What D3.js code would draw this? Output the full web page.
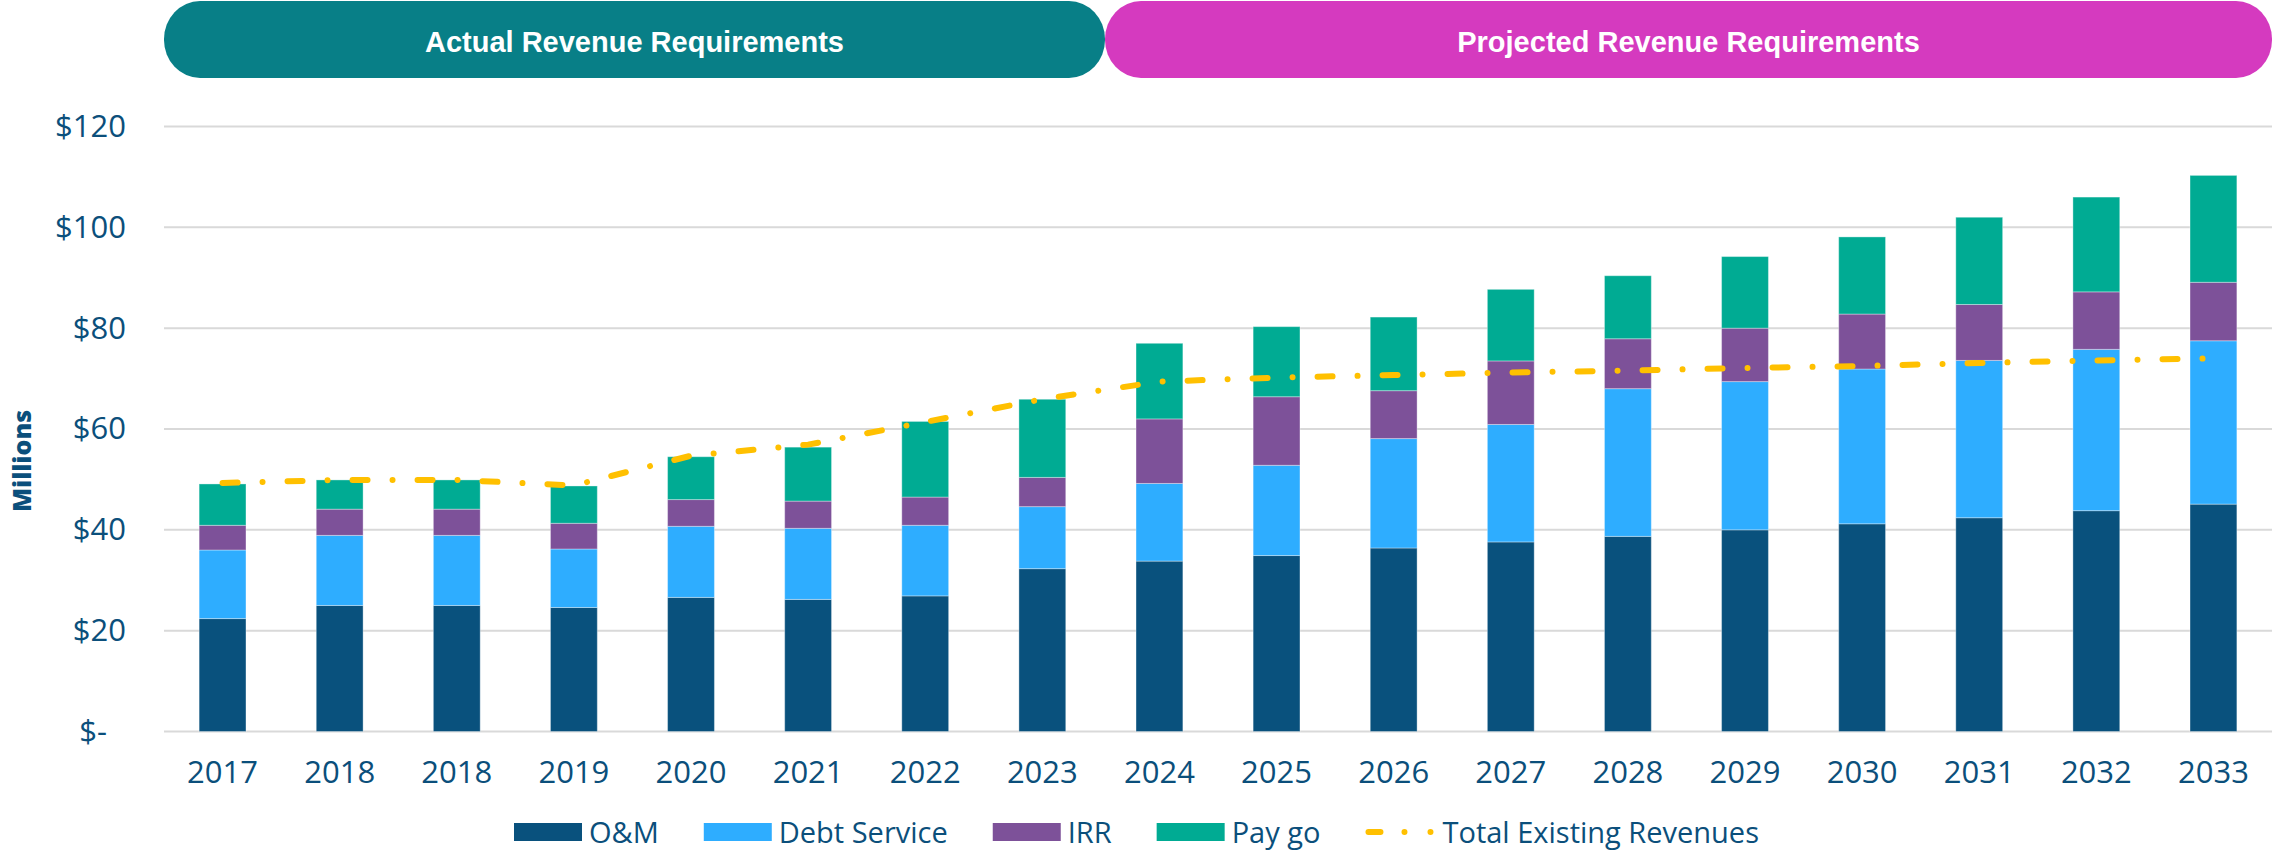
<!DOCTYPE html>
<html>
<head>
<meta charset="utf-8">
<script src="https://cdn.jsdelivr.net/npm/d3@7"></script>
<style>
  body { margin: 0; background: #fff; }
  svg { display: block; }
</style>
</head>
<body>
<svg id="chart" width="2272" height="852"></svg>
<script>
const years = ["2017", "2018", "2018", "2019", "2020", "2021", "2022", "2023", "2024",
  "2025", "2026", "2027", "2028", "2029", "2030", "2031", "2032", "2033"];

const om = [22.4, 25.0, 25.0, 24.6, 26.6, 26.2, 26.9, 32.3, 33.8,
  34.9, 36.4, 37.6, 38.7, 40.0, 41.2, 42.4, 43.8, 45.1];
const debtService = [13.6, 13.9, 13.9, 11.6, 14.1, 14.1, 14.0, 12.3, 15.4,
  17.9, 21.7, 23.3, 29.3, 29.4, 30.7, 31.2, 32.0, 32.4];
const irr = [4.9, 5.2, 5.2, 5.1, 5.3, 5.4, 5.6, 5.8, 12.8,
  13.6, 9.5, 12.6, 9.9, 10.6, 10.9, 11.1, 11.4, 11.6];
const payGo = [8.2, 5.8, 5.8, 7.4, 8.5, 10.7, 15.0, 15.5, 15.0,
  13.9, 14.6, 14.2, 12.5, 14.2, 15.3, 17.3, 18.8, 21.2];
const existingRevenues = [49.3, 49.9, 49.9, 48.8, 54.7, 56.9, 61.4, 65.9, 69.4,
  70.2, 70.7, 71.2, 71.6, 72.1, 72.5, 73.1, 73.6, 74.0];

const yTicks = [0, 20, 40, 60, 80, 100, 120];

const seriesNames = ["O&M", "Debt Service", "IRR", "Pay go"];
const seriesColors = ["#09517D", "#2EADFF", "#7D5199", "#00AB93"];
const lineName = "Total Existing Revenues";
const lineColor = "#FFC000";
const textColor = "#0B4F7B";
const font = "'Open Sans', 'DejaVu Sans', sans-serif";
const dashes = "15,25,0.01,25";

const plotLeft = 164, plotRight = 2272, plotTop = 126.5, plotBottom = 731.5;

const svg = d3.select("#chart");

const x = d3.scaleBand()
  .domain(d3.range(years.length))
  .range([plotLeft, plotRight])
  .paddingInner(0.6)
  .paddingOuter(0.3);

const y = d3.scaleLinear().domain([0, 120]).range([plotBottom, plotTop]);

// banners above the plot
const banners = [
  { label: "Actual Revenue Requirements", x0: 164, x1: 1105, color: "#087F87" },
  { label: "Projected Revenue Requirements", x0: 1105, x1: 2272, color: "#D53ABF" }
];
const bannerG = svg.append("g");
bannerG.selectAll("rect")
  .data(banners)
  .enter()
  .append("rect")
  .attr("x", (d) => d.x0)
  .attr("y", 1)
  .attr("width", (d) => d.x1 - d.x0)
  .attr("height", 77)
  .attr("rx", 36)
  .attr("ry", 38)
  .attr("fill", (d) => d.color);
bannerG.selectAll("text")
  .data(banners)
  .enter()
  .append("text")
  .attr("x", (d) => (d.x0 + d.x1) / 2)
  .attr("y", 52)
  .attr("text-anchor", "middle")
  .attr("fill", "#fff")
  .style("font-family", "'Liberation Sans', Arial, sans-serif")
  .style("font-weight", "bold")
  .style("font-size", "29px")
  .text((d) => d.label);

// gridlines
svg.append("g")
  .selectAll("line")
  .data(yTicks)
  .enter()
  .append("line")
  .attr("x1", plotLeft)
  .attr("x2", plotRight)
  .attr("y1", (d) => y(d))
  .attr("y2", (d) => y(d))
  .attr("stroke", "#D9D9D9")
  .attr("stroke-width", 2);

// y axis
const yAxis = svg.append("g")
  .attr("transform", `translate(${plotLeft},0)`)
  .call(d3.axisLeft(y).tickValues(yTicks).tickSize(0).tickPadding(38)
    .tickFormat((d) => (d === 0 ? "$-" : "$" + d)));
yAxis.select(".domain").remove();
yAxis.selectAll("text")
  .attr("dx", (d) => (d === 0 ? -19 : 0))
  .attr("fill", textColor)
  .style("font-family", font)
  .style("font-size", "31px");

svg.append("text")
  .attr("transform", "translate(31,461) rotate(-90)")
  .attr("text-anchor", "middle")
  .attr("fill", textColor)
  .style("font-family", font)
  .style("font-weight", "800")
  .style("font-size", "25px")
  .text("Millions");

// x axis
const xAxis = svg.append("g")
  .attr("transform", `translate(0,${plotBottom})`)
  .call(d3.axisBottom(x).tickSize(0).tickPadding(29).tickFormat((i) => years[i]));
xAxis.select(".domain").remove();
xAxis.selectAll("text")
  .attr("fill", textColor)
  .style("font-family", font)
  .style("font-size", "31px");

// stacked bars
const rows = years.map((yr, i) => ({
  i: i,
  "O&M": om[i],
  "Debt Service": debtService[i],
  "IRR": irr[i],
  "Pay go": payGo[i]
}));
const stacked = d3.stack().keys(seriesNames)(rows);

svg.append("g")
  .selectAll("g")
  .data(stacked)
  .enter()
  .append("g")
  .attr("fill", (d, k) => seriesColors[k])
  .selectAll("rect")
  .data((d) => d)
  .enter()
  .append("rect")
  .attr("x", (d) => x(d.data.i))
  .attr("y", (d) => y(d[1]))
  .attr("width", x.bandwidth())
  .attr("height", (d) => y(d[0]) - y(d[1]))
  .attr("stroke", "#ffffff")
  .attr("stroke-opacity", 0.35)
  .attr("stroke-width", 1);

// existing revenues line
const line = d3.line()
  .x((d, i) => x(i) + x.bandwidth() / 2)
  .y((d) => y(d));

svg.append("path")
  .datum(existingRevenues)
  .attr("d", line)
  .attr("fill", "none")
  .attr("stroke", lineColor)
  .attr("stroke-width", 6)
  .attr("stroke-linecap", "round")
  .attr("stroke-dasharray", dashes);

// legend
const legend = svg.append("g");
const legendY = 832;
let lx = 514;
seriesNames.forEach((name, k) => {
  legend.append("rect")
    .attr("x", lx)
    .attr("y", legendY - 9)
    .attr("width", 68)
    .attr("height", 18)
    .attr("fill", seriesColors[k]);
  const t = legend.append("text")
    .attr("x", lx + 75)
    .attr("y", legendY + 11)
    .attr("fill", textColor)
    .style("font-family", font)
    .style("font-size", "29px")
    .text(name);
  lx += 75 + t.node().getComputedTextLength() + 45;
});
legend.append("line")
  .attr("x1", lx + 3)
  .attr("x2", lx + 72)
  .attr("y1", legendY)
  .attr("y2", legendY)
  .attr("stroke", lineColor)
  .attr("stroke-width", 6)
  .attr("stroke-linecap", "round")
  .attr("stroke-dasharray", "12,24,0.01,26,0.01,60");
legend.append("text")
  .attr("x", lx + 77)
  .attr("y", legendY + 11)
  .attr("fill", textColor)
  .style("font-family", font)
  .style("font-size", "29px")
  .text(lineName);
</script>
</body>
</html>
